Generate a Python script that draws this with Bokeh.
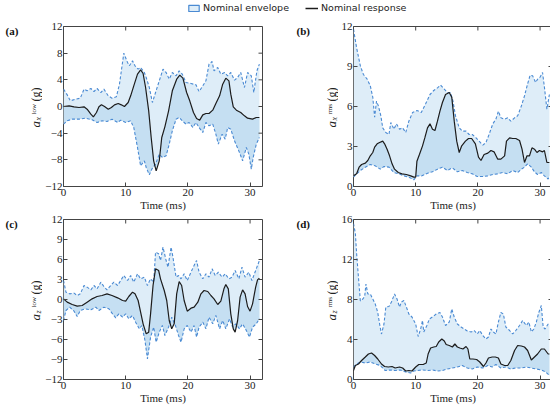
import math
from bokeh.plotting import figure
from bokeh.layouts import column, row
from bokeh.models import Range1d, FixedTicker, Label, Legend, LegendItem
from bokeh.embed import file_html
from bokeh.resources import INLINE

# ---------------- data (time in ms, value in g) ----------------
x_ticks = [0, 10, 20, 30]

a_upper = [(0, 2.6), (0.6, 1.75), (1.1, 0.85), (1.9, 1.1), (2.7, 1.25), (3.3, 2.6), (3.8, 2.35), (4.4, 2.7),
           (4.9, 2.25), (5.4, 2.7), (6.0, 2.1), (6.5, 2.6), (7.2, 1.6), (7.8, 1.25), (8.5, 1.45), (9.0, 3.35),
           (9.7, 8.0), (10.3, 6.6), (10.6, 6.1), (11.1, 6.85), (11.5, 6.1), (12.0, 5.6), (12.4, 5.85), (13.0, 5.1),
           (13.3, 4.35), (13.8, 2.85), (14.3, 0.6), (14.8, 2.1), (15.4, 3.85), (16.0, 5.6), (16.5, 5.1), (17.0, 4.1),
           (17.5, 5.1), (18.1, 4.6), (18.6, 5.35), (19.1, 4.85), (19.7, 3.6), (20.5, 3.45), (21.3, 3.25), (21.8, 2.25),
           (22.4, 3.1), (22.9, 3.85), (23.4, 6.35), (23.9, 6.75), (24.2, 5.35), (24.8, 5.85), (25.3, 4.85), (25.9, 5.1),
           (26.4, 4.6), (26.9, 5.1), (27.5, 3.95), (28.0, 4.35), (28.5, 5.1), (29.1, 2.85), (29.6, 5.1), (30.2, 4.6),
           (30.6, 2.1), (31.1, 5.35), (31.5, 6.35)]
a_lower = [(0, -2.65), (0.6, -2.15), (1.4, -1.9), (2.5, -1.9), (3.5, -1.75), (4.6, -2.0), (5.4, -2.4), (6.2, -2.15),
           (7.0, -2.25), (7.8, -1.9), (8.7, -2.4), (9.2, -2.05), (10.0, -2.4), (10.8, -2.15), (11.3, -3.15),
           (11.9, -6.15), (12.4, -8.9), (13.0, -8.15), (13.3, -9.15), (13.8, -10.25), (14.2, -9.4), (14.8, -8.65),
           (15.4, -7.15), (15.9, -7.65), (16.5, -7.4), (17.0, -5.65), (17.5, -3.65), (18.1, -1.9), (18.6, -1.65),
           (19.1, -2.15), (19.7, -2.65), (20.2, -2.4), (20.8, -3.15), (21.3, -2.4), (21.8, -3.15), (22.4, -3.9),
           (22.9, -2.4), (23.4, -2.9), (24.0, -2.65), (24.5, -4.15), (24.9, -5.65), (25.5, -4.15), (26.0, -4.9),
           (26.4, -3.15), (26.9, -3.4), (27.5, -5.15), (28.3, -6.9), (28.8, -8.15), (29.4, -6.15), (29.8, -7.15),
           (30.2, -9.4), (30.5, -7.65), (31.0, -5.65), (31.5, -4.65)]
a_resp = [(0, 0.0), (0.9, 0.1), (1.7, -0.05), (2.5, -0.15), (3.3, -0.05), (3.8, -0.4), (4.4, -1.15), (4.8, -1.55),
          (5.3, -0.9), (5.7, -0.05), (6.1, 0.25), (6.6, 0.0), (7.2, -0.4), (7.7, -0.15), (8.2, 0.25), (8.8, 0.45),
          (9.3, 0.25), (9.8, 0.0), (10.4, 0.6), (10.8, 1.6), (11.3, 3.1), (11.9, 4.85), (12.4, 5.5), (12.8, 4.95),
          (13.2, 2.85), (13.7, -0.65), (14.1, -4.65), (14.5, -8.15), (14.9, -9.65), (15.4, -8.15), (15.8, -4.65),
          (16.3, -3.05), (16.9, -0.65), (17.5, 2.35), (18.2, 4.1), (18.7, 4.7), (19.2, 4.25), (19.8, 2.1),
          (20.3, 0.85), (20.9, -0.9), (21.4, -1.8), (21.9, -2.05), (22.4, -1.25), (22.9, -1.05), (23.4, -1.05),
          (24.0, -0.55), (24.5, 0.45), (25.1, 1.6), (25.6, 3.35), (26.1, 4.25), (26.6, 3.85), (26.9, 1.85),
          (27.3, -0.05), (27.8, -0.55), (28.5, -0.9), (29.1, -1.4), (29.6, -1.75), (30.4, -1.9), (31.0, -1.65),
          (31.5, -1.65)]

b_upper = [(0, 11.8), (0.5, 10.4), (1.1, 9.05), (1.6, 8.4), (2.2, 8.05), (2.7, 7.55), (3.1, 6.7), (3.4, 5.2),
           (3.7, 6.4), (4.0, 6.05), (4.4, 5.3), (4.7, 4.4), (5.2, 4.05), (5.7, 3.9), (6.0, 4.8), (6.5, 4.3),
           (6.9, 4.7), (7.4, 4.3), (7.9, 4.4), (8.4, 4.05), (8.9, 4.9), (9.5, 5.55), (10.2, 5.7), (10.9, 5.55),
           (11.6, 6.2), (12.3, 6.9), (12.9, 7.2), (13.5, 7.4), (14.0, 7.6), (14.6, 7.3), (15.1, 7.05), (15.6, 7.05),
           (16.0, 6.4), (16.4, 5.3), (17.0, 4.4), (17.5, 4.15), (18.1, 4.15), (18.6, 3.9), (19.1, 3.9), (19.7, 3.65),
           (20.2, 3.4), (20.8, 3.1), (21.3, 3.3), (21.8, 3.9), (22.4, 4.7), (22.9, 5.05), (23.3, 5.65), (23.7, 5.15),
           (24.3, 5.05), (24.8, 5.15), (25.3, 4.9), (25.9, 5.15), (26.4, 5.3), (27.0, 6.05), (27.5, 6.8), (28.0, 7.7),
           (28.4, 8.35), (28.8, 8.3), (29.3, 7.8), (29.6, 8.05), (30.0, 8.2), (30.4, 8.55), (30.7, 7.45), (31.1, 5.8),
           (31.5, 6.9)]
b_lower = [(0, 0.7), (0.5, 0.95), (1.1, 1.2), (1.9, 1.45), (2.7, 1.65), (3.5, 1.55), (4.3, 1.3), (4.9, 1.5),
           (5.7, 1.45), (6.5, 1.05), (7.3, 0.95), (8.1, 0.8), (8.9, 0.7), (9.7, 0.5), (10.2, 0.8), (11.0, 0.8),
           (11.9, 1.0), (12.7, 1.1), (13.5, 1.3), (14.3, 1.45), (15.1, 1.2), (15.9, 1.4), (16.7, 1.1), (17.5, 1.2),
           (18.3, 1.05), (19.1, 0.95), (19.9, 0.75), (20.8, 0.75), (21.6, 0.8), (22.4, 0.9), (23.2, 0.95),
           (24.0, 1.05), (24.8, 0.95), (25.6, 1.2), (26.4, 1.05), (27.0, 1.3), (27.5, 1.45), (28.0, 1.7),
           (28.6, 1.45), (29.1, 1.1), (29.6, 0.9), (30.2, 1.05), (30.7, 0.8), (31.3, 0.55), (31.5, 0.8)]
b_resp = [(0, 0.8), (0.5, 0.95), (0.9, 1.45), (1.3, 1.65), (1.9, 1.75), (2.3, 1.95), (2.7, 2.3), (3.1, 2.55),
          (3.4, 2.95), (3.8, 3.2), (4.2, 3.3), (4.7, 3.4), (5.0, 3.2), (5.4, 2.8), (5.8, 2.3), (6.2, 1.7),
          (6.6, 1.3), (7.2, 1.05), (7.8, 0.95), (8.5, 0.9), (9.2, 0.8), (9.7, 0.7), (10.0, 0.7), (10.2, 1.9),
          (10.6, 2.4), (11.1, 3.05), (11.5, 3.7), (11.9, 4.4), (12.3, 4.7), (12.7, 4.3), (13.1, 4.2), (13.5, 4.9),
          (13.9, 5.65), (14.3, 6.3), (14.8, 6.9), (15.4, 7.05), (15.8, 6.7), (16.2, 4.9), (16.6, 3.4), (17.0, 2.55),
          (17.4, 3.05), (18.0, 3.4), (18.5, 3.6), (19.0, 3.6), (19.6, 3.2), (20.1, 2.2), (20.5, 1.95), (21.0, 2.4),
          (21.6, 2.5), (22.1, 2.7), (22.6, 2.6), (23.2, 2.05), (23.7, 2.05), (24.3, 2.3), (24.6, 3.4), (25.1, 3.65),
          (25.6, 3.6), (26.1, 3.6), (26.7, 3.45), (27.1, 2.8), (27.5, 1.8), (27.9, 2.3), (28.3, 2.3), (28.7, 2.9),
          (29.1, 2.8), (29.5, 2.55), (29.9, 2.7), (30.4, 2.6), (30.7, 2.7), (31.1, 1.8), (31.5, 1.8)]

c_upper = [(0, 2.85), (0.4, 1.1), (1.0, 0.85), (1.7, 0.95), (2.2, 0.6), (2.7, 0.85), (3.3, 2.1), (3.8, 1.85),
           (4.4, 1.45), (4.9, 2.1), (5.4, 1.6), (6.0, 2.6), (6.5, 1.95), (7.0, 1.45), (7.6, 2.1), (8.1, 2.6),
           (8.7, 2.1), (9.2, 2.85), (9.7, 3.6), (10.3, 2.85), (10.8, 3.6), (11.3, 2.6), (11.9, 3.85), (12.4, 3.1),
           (13.0, 3.35), (13.5, 2.1), (14.0, 3.1), (14.5, 2.6), (14.8, 7.1), (15.3, 6.85), (15.6, 5.85), (16.0, 7.85),
           (16.5, 5.85), (16.8, 4.85), (17.3, 7.85), (17.6, 6.35), (18.1, 3.35), (18.5, 3.6), (18.9, 3.1), (19.4, 3.85),
           (19.9, 2.85), (20.5, 4.1), (21.0, 5.1), (21.4, 5.85), (21.8, 4.1), (22.4, 3.1), (22.9, 3.85), (23.4, 3.35),
           (23.9, 4.6), (24.4, 3.6), (24.9, 4.1), (25.5, 3.35), (26.0, 3.85), (26.6, 3.1), (27.1, 3.35), (27.6, 4.35),
           (28.2, 3.1), (28.7, 4.85), (29.2, 3.35), (29.8, 4.1), (30.3, 2.85), (30.9, 4.35), (31.5, 5.85)]
c_lower = [(0, -3.15), (0.4, -1.65), (1.0, -1.15), (1.7, -1.75), (2.2, -2.55), (2.7, -1.65), (3.5, -1.4),
           (4.4, -1.55), (5.2, -1.15), (5.7, -1.65), (6.5, -1.15), (7.3, -1.4), (7.8, -2.05), (8.4, -2.75),
           (8.9, -2.15), (9.5, -2.65), (10.0, -2.15), (10.5, -2.9), (11.1, -2.4), (11.6, -3.4), (12.2, -4.4),
           (12.6, -3.9), (13.1, -6.15), (13.5, -8.9), (14.0, -5.65), (14.5, -4.15), (14.9, -6.4), (15.4, -4.9),
           (15.9, -3.9), (16.3, -5.4), (16.9, -4.15), (17.4, -2.65), (18.0, -3.9), (18.5, -5.4), (18.9, -6.4),
           (19.4, -4.4), (19.9, -3.9), (20.5, -4.9), (21.0, -3.9), (21.4, -5.65), (21.8, -4.15), (22.4, -3.4),
           (22.9, -4.4), (23.4, -2.65), (24.0, -3.65), (24.5, -2.4), (25.1, -4.4), (25.6, -3.15), (26.1, -4.4),
           (26.7, -2.9), (27.2, -4.15), (27.7, -3.65), (28.3, -4.4), (28.8, -3.65), (29.4, -4.65), (29.9, -5.65),
           (30.4, -4.15), (31.0, -3.65), (31.5, -2.9)]
c_resp = [(0, 0.1), (0.6, -0.4), (1.4, -0.75), (2.2, -1.0), (3.0, -0.9), (3.8, -0.4), (4.6, 0.1), (5.4, 0.45),
          (6.2, 0.6), (7.0, 0.85), (7.8, 0.6), (8.7, 0.25), (9.5, -0.15), (10.0, -0.25), (10.5, 0.45), (11.1, 1.1),
          (11.5, 0.85), (12.0, -0.15), (12.4, -1.9), (12.8, -3.65), (13.3, -5.15), (13.7, -4.9), (14.0, -2.15),
          (14.4, 2.1), (14.8, 4.6), (15.3, 4.35), (15.6, 3.1), (16.2, 1.35), (16.6, -0.15), (17.0, -3.15),
          (17.4, -4.4), (17.8, -3.65), (18.2, 0.85), (18.6, 2.7), (19.0, 2.1), (19.4, -0.15), (19.9, -1.75),
          (20.5, -1.3), (21.0, -1.15), (21.6, -0.4), (22.1, 0.85), (22.6, 1.35), (23.2, 1.2), (23.7, 0.6),
          (24.2, 0.1), (24.8, -0.75), (25.3, -0.25), (25.8, 1.6), (26.1, 2.25), (26.5, 1.6), (26.9, -2.15),
          (27.3, -4.4), (27.6, -4.9), (28.0, -3.15), (28.4, 0.35), (28.8, 1.45), (29.2, 0.85), (29.6, -1.05),
          (30.0, -1.75), (30.4, -0.65), (30.9, 1.85), (31.2, 2.95), (31.5, 3.2)]

d_upper = [(0, 15.6), (0.3, 14.6), (0.5, 12.6), (0.8, 10.2), (1.1, 7.85), (1.5, 8.05), (1.8, 8.3), (2.0, 9.55),
           (2.3, 8.55), (2.7, 8.55), (3.1, 8.05), (3.5, 7.55), (3.9, 6.7), (4.2, 5.55), (4.5, 4.55), (4.9, 5.55),
           (5.2, 7.25), (5.7, 7.3), (6.1, 7.75), (6.6, 8.55), (7.0, 8.05), (7.4, 7.25), (7.7, 7.75), (8.1, 7.9),
           (8.5, 7.25), (8.9, 6.55), (9.4, 6.25), (10.0, 5.55), (10.4, 4.3), (10.8, 5.05), (11.1, 5.9), (11.3, 4.75),
           (11.8, 5.4), (12.2, 6.05), (12.7, 6.25), (13.3, 6.55), (13.9, 6.7), (14.3, 6.25), (14.8, 5.4), (15.4, 5.75),
           (15.8, 7.05), (16.2, 6.25), (16.7, 5.55), (17.3, 5.25), (17.8, 5.05), (18.3, 4.85), (18.9, 4.75),
           (19.4, 4.9), (19.9, 4.55), (20.3, 4.9), (20.8, 4.4), (21.3, 4.05), (21.7, 4.25), (22.1, 5.05), (22.5, 4.75),
           (22.9, 4.55), (23.3, 5.75), (23.7, 6.7), (24.1, 6.55), (24.5, 5.25), (25.1, 4.9), (25.6, 4.55), (26.1, 4.9),
           (26.7, 5.4), (27.2, 5.9), (27.8, 5.4), (28.2, 5.75), (28.6, 4.75), (29.0, 5.05), (29.4, 5.75), (29.8, 6.7),
           (30.2, 7.4), (30.5, 5.25), (30.8, 5.05), (31.3, 5.55), (31.5, 5.4)]
d_lower = [(0, 1.25), (0.5, 1.55), (1.1, 1.75), (1.9, 1.65), (2.7, 1.75), (3.5, 1.55), (4.3, 1.4), (5.1, 0.9),
           (5.9, 0.95), (6.7, 0.9), (7.5, 0.95), (8.4, 0.75), (9.2, 0.65), (9.7, 0.85), (10.2, 0.9), (11.1, 0.95),
           (11.9, 0.9), (12.7, 0.95), (13.5, 0.85), (14.3, 0.9), (15.1, 1.05), (15.9, 1.15), (16.7, 1.25),
           (17.5, 1.4), (18.3, 1.15), (19.1, 1.05), (19.9, 1.25), (20.8, 1.15), (21.6, 1.4), (22.3, 1.25),
           (22.9, 1.5), (23.7, 1.15), (24.5, 1.25), (25.3, 1.05), (26.1, 1.15), (27.0, 1.15), (27.8, 1.25),
           (28.6, 1.15), (29.4, 1.05), (30.2, 0.95), (30.9, 0.75), (31.5, 0.4)]
d_resp = [(0, 0.9), (0.3, 1.4), (0.8, 1.55), (1.3, 1.9), (1.9, 2.25), (2.4, 2.55), (2.9, 2.65), (3.4, 2.4),
          (3.9, 2.05), (4.5, 1.55), (5.0, 1.3), (5.6, 1.25), (6.2, 1.3), (6.7, 1.15), (7.4, 1.25), (7.9, 1.15),
          (8.4, 0.85), (8.9, 0.9), (9.4, 0.85), (10.0, 1.25), (10.5, 1.5), (11.2, 1.5), (11.7, 1.65), (12.0, 2.55),
          (12.4, 3.15), (12.9, 3.25), (13.3, 3.3), (13.7, 3.75), (14.2, 4.05), (14.6, 3.85), (14.9, 3.5),
          (15.4, 3.4), (15.9, 3.25), (16.3, 3.55), (16.7, 3.25), (17.1, 3.15), (17.6, 3.05), (18.1, 3.3),
          (18.4, 3.05), (18.7, 2.05), (19.2, 2.05), (19.8, 2.0), (20.3, 1.75), (20.9, 1.3), (21.3, 1.65),
          (21.7, 2.15), (22.3, 2.25), (22.8, 2.25), (23.3, 2.15), (23.7, 1.55), (24.3, 1.4), (24.8, 1.4),
          (25.3, 1.9), (25.9, 2.9), (26.4, 3.4), (27.0, 3.35), (27.5, 3.25), (28.0, 2.9), (28.6, 1.95),
          (29.1, 2.25), (29.6, 2.55), (30.2, 3.05), (30.7, 3.05), (31.3, 2.55), (31.5, 2.55)]

a_yticks = [-12, -8, -4, 0, 4, 8, 12]
b_yticks = [0, 3, 6, 9, 12]
c_yticks = [-12, -9, -6, -3, 0, 3, 6, 9, 12]
d_yticks = [0, 4, 8, 12, 16]

legend_labels = ["Nominal envelope", "Nominal response"]
x_label = "Time (ms)"

# ---------------- style ----------------
FILL_ENV = "#deedf8"
FILL_RESP = "#c5dff2"
DASH_COL = "#4a8ad3"
RESP_COL = "#1c1c1c"
FRAME_COL = "#444444"
SERIF = "Liberation Serif"
FW, FH = 199, 160
XMAX = 32


def style_axis(ax, ticks, standoff):
    ax.ticker = FixedTicker(ticks=ticks)
    ax.axis_line_color = None
    ax.major_tick_line_color = FRAME_COL
    ax.major_tick_in = 4
    ax.major_tick_out = 0
    ax.minor_tick_line_color = None
    ax.major_label_text_font = SERIF
    ax.major_label_text_font_size = "11px"
    ax.major_label_text_color = "#222222"
    ax.major_label_standoff = standoff


def make_panel(upper, lower, resp, yr, yticks, bl, br, bt, bb):
    p = figure(frame_width=FW, frame_height=FH, x_range=Range1d(0, XMAX), y_range=Range1d(*yr),
               output_backend="svg", toolbar_location=None, title=None,
               min_border_left=bl, min_border_right=br, min_border_top=bt, min_border_bottom=bb)
    p.grid.visible = False
    p.outline_line_color = FRAME_COL
    p.outline_line_width = 1
    ux, uy = [list(v) for v in zip(*upper)]
    lx, ly = [list(v) for v in zip(*lower)]
    rx, ry = [list(v) for v in zip(*resp)]
    p.patch(ux + lx[::-1], uy + ly[::-1], fill_color=FILL_ENV, line_color=None)
    p.patch(lx + rx[::-1], ly + ry[::-1], fill_color=FILL_RESP, line_color=None)
    p.line(ux, uy, line_color=DASH_COL, line_dash="3 2", line_width=1.1)
    p.line(lx, ly, line_color=DASH_COL, line_dash="3 2", line_width=1.1)
    p.line(rx, ry, line_color=RESP_COL, line_width=1.2)

    # mirrored inward ticks on top and right edges
    p.ray(x=x_ticks, y=[yr[1]] * len(x_ticks), length=4, length_units="screen",
          angle=-math.pi / 2, line_color=FRAME_COL, line_width=1)
    p.ray(x=[XMAX] * len(yticks), y=yticks, length=4, length_units="screen",
          angle=math.pi, line_color=FRAME_COL, line_width=1)

    style_axis(p.xaxis[0], x_ticks, 2)
    style_axis(p.yaxis[0], yticks, 1)
    p.xaxis[0].axis_label = x_label
    p.xaxis[0].axis_label_text_font = SERIF
    p.xaxis[0].axis_label_text_font_size = "11px"
    p.xaxis[0].axis_label_text_font_style = "normal"
    p.xaxis[0].axis_label_text_color = "#222222"
    p.xaxis[0].axis_label_standoff = 0
    return p


def make_label_strip(width, bt, bb, letter, sub, sup, base_x, letter_x):
    """Narrow figure whose frame lines up with the panel frame (1 data unit = 1 px, origin at frame
    bottom-left); it holds the rotated y-axis label and the panel letter."""
    s = figure(frame_width=width, frame_height=FH, output_backend="svg", toolbar_location=None, title=None,
               min_border_left=0, min_border_right=0, min_border_top=bt, min_border_bottom=bb,
               x_range=Range1d(0, width), y_range=Range1d(0, FH))
    s.axis.visible = False
    s.grid.visible = False
    s.outline_line_color = None
    base = dict(angle=math.pi / 2, text_font=SERIF, text_color="#222222",
                text_align="left", text_baseline="alphabetic")
    y0 = 59
    s.add_layout(Label(x=base_x, y=y0, text="a", text_font_style="italic", text_font_size="13px", **base))
    s.add_layout(Label(x=base_x + 2.5, y=y0 + 7, text=sub, text_font_style="italic",
                       text_font_size="8px", **base))
    s.add_layout(Label(x=base_x - 1.5, y=y0 + 13, text=sup, text_font_size="7px", **base))
    s.add_layout(Label(x=base_x, y=y0 + 26, text="(g)", text_font_size="12px", **base))
    s.add_layout(Label(x=letter_x, y=FH - 4, text=letter, text_font=SERIF, text_font_style="bold",
                       text_font_size="11px", text_color="#111111", text_baseline="middle",
                       text_align="left"))
    return s


TOP1, TOP2, BOT = 8, 6, 27

pa = make_panel(a_upper, a_lower, a_resp, (-12, 12), a_yticks, 18, 20, TOP1, BOT)
pb = make_panel(b_upper, b_lower, b_resp, (0, 12), b_yticks, 13, 3, TOP1, BOT)
pc = make_panel(c_upper, c_lower, c_resp, (-12, 12), c_yticks, 18, 20, TOP2, BOT)
pd = make_panel(d_upper, d_lower, d_resp, (0, 16), d_yticks, 13, 3, TOP2, BOT)

la = make_label_strip(42, TOP1, BOT, "(a)", "x", "low", 35, 5)
lb = make_label_strip(56, TOP1, BOT, "(b)", "x", "rms", 49, 14)
lc = make_label_strip(42, TOP2, BOT, "(c)", "z", "low", 35, 5)
ld = make_label_strip(56, TOP2, BOT, "(d)", "z", "rms", 49, 14)

# legend strip
leg = figure(width=550, height=18, output_backend="svg", toolbar_location=None, title=None, min_border=0,
             x_range=Range1d(0, 1), y_range=Range1d(0, 1))
leg.axis.visible = False
leg.grid.visible = False
leg.outline_line_color = None
r1 = leg.quad(left=[2], right=[3], top=[2], bottom=[1], fill_color=FILL_ENV, line_color=DASH_COL,
              line_width=1.2)
r2 = leg.line(x=[2, 3], y=[2, 2], line_color=RESP_COL, line_width=1.5)
legend = Legend(items=[LegendItem(label=legend_labels[0], renderers=[r1]),
                       LegendItem(label=legend_labels[1], renderers=[r2])],
                orientation="horizontal", location=(187, 5),
                label_text_font="DejaVu Sans", label_text_font_size="9.5px", label_text_color="#222222",
                glyph_width=13, glyph_height=8, label_height=10, padding=0, margin=0, spacing=16,
                label_standoff=3, border_line_color=None, background_fill_alpha=0)
leg.add_layout(legend, "center")

layout = column(leg, row(la, pa, lb, pb), row(lc, pc, ld, pd))
open("out.html", "w").write(file_html(layout, INLINE))
